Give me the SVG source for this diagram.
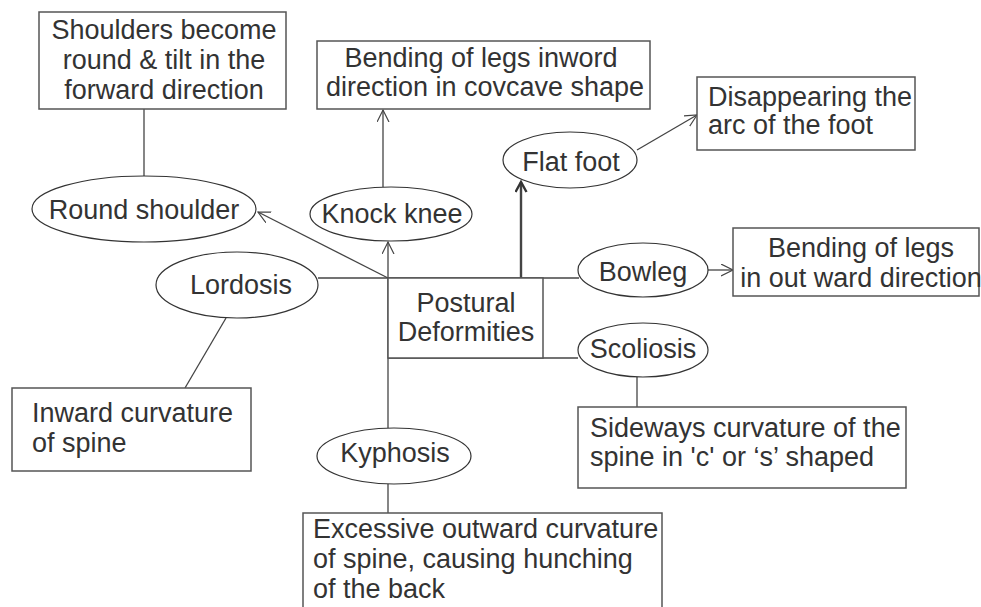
<svg xmlns="http://www.w3.org/2000/svg" width="981" height="607" viewBox="0 0 981 607">
<defs>
<style>
.box{fill:#fff;stroke:#555;stroke-width:1.5}
.ell{fill:#fff;stroke:#333;stroke-width:1.2}
.t{font-family:"Liberation Sans",Arial,sans-serif;font-size:27px;fill:#333}
.c{text-anchor:middle}
.ln{fill:none;stroke:#444;stroke-width:1.3}
.bold{stroke-width:2.4}
</style>
<marker id="arr" markerWidth="14" markerHeight="14" refX="12" refY="6" orient="auto" markerUnits="userSpaceOnUse">
<path d="M0,0 L12,6 L0,12" fill="none" stroke="#444" stroke-width="1.2"/>
</marker>
<marker id="arrb" markerWidth="14" markerHeight="14" refX="11" refY="6" orient="auto" markerUnits="userSpaceOnUse">
<path d="M1,0.5 L11,6 L1,11.5" fill="none" stroke="#333" stroke-width="2.4"/>
</marker>
</defs>
<rect width="981" height="607" fill="#fff"/>
<g id="connectors">
<line class="ln" x1="144" y1="109" x2="144" y2="176"/>
<line class="ln" x1="388" y1="278" x2="258" y2="212" marker-end="url(#arr)"/>
<line class="ln" x1="388" y1="278" x2="388" y2="242" marker-end="url(#arr)"/>
<line class="ln" x1="383" y1="187" x2="383" y2="110" marker-end="url(#arr)"/>
<line class="ln bold" x1="521" y1="278" x2="521" y2="182" marker-end="url(#arrb)"/>
<line class="ln" x1="637" y1="150" x2="697" y2="115" marker-end="url(#arr)"/>
<line class="ln" x1="708" y1="270" x2="733" y2="270" marker-end="url(#arr)"/>
<line class="ln" x1="318" y1="278" x2="579" y2="278"/>
<line class="ln" x1="226" y1="318" x2="185" y2="388"/>
<line class="ln" x1="388" y1="278" x2="388" y2="428"/>
<line class="ln" x1="388" y1="484" x2="388" y2="513"/>
<line class="ln" x1="388" y1="358" x2="578" y2="358"/>
<line class="ln" x1="637" y1="377" x2="637" y2="407"/>
</g>
<g id="shoulders-desc">
<rect class="box" x="39" y="12" width="247" height="97"/>
<text class="t c" x="164" y="39">Shoulders become</text>
<text class="t c" x="164" y="69">round &amp; tilt in the</text>
<text class="t c" x="164" y="99">forward direction</text>
</g>
<g id="round-shoulder">
<ellipse class="ell" cx="144" cy="209" rx="112" ry="33"/>
<text class="t c" x="144" y="219">Round shoulder</text>
</g>
<g id="knock-desc">
<rect class="box" x="317" y="41" width="333" height="68"/>
<text class="t c" x="481" y="67">Bending of legs inword</text>
<text class="t c" x="485" y="96">direction in covcave shape</text>
</g>
<g id="knock-knee">
<ellipse class="ell" cx="391" cy="214" rx="81" ry="27"/>
<text class="t c" x="392" y="223">Knock knee</text>
</g>
<g id="flat-foot">
<ellipse class="ell" cx="570" cy="160" rx="67" ry="28"/>
<text class="t c" x="571" y="171">Flat foot</text>
</g>
<g id="flat-desc">
<rect class="box" x="697" y="77" width="218" height="73"/>
<text class="t" x="708" y="106">Disappearing the</text>
<text class="t" x="708" y="134">arc of the foot</text>
</g>
<g id="lordosis">
<ellipse class="ell" cx="237" cy="285" rx="81" ry="33"/>
<text class="t c" x="241" y="294">Lordosis</text>
</g>
<g id="lordosis-desc">
<rect class="box" x="12" y="388" width="239" height="83"/>
<text class="t" x="32" y="422">Inward curvature</text>
<text class="t" x="32" y="452">of spine</text>
</g>
<g id="postural">
<rect class="box" x="388" y="278" width="155" height="80"/>
<text class="t c" x="466" y="312">Postural</text>
<text class="t c" x="466" y="341">Deformities</text>
</g>
<g id="bowleg">
<ellipse class="ell" cx="643" cy="270" rx="65" ry="27"/>
<text class="t c" x="643" y="281">Bowleg</text>
</g>
<g id="bowleg-desc">
<rect class="box" x="733" y="228" width="246" height="68"/>
<text class="t c" x="861" y="257">Bending of legs</text>
<text class="t c" x="861" y="287">in out ward direction</text>
</g>
<g id="scoliosis">
<ellipse class="ell" cx="643" cy="350" rx="65" ry="27"/>
<text class="t c" x="643" y="358">Scoliosis</text>
</g>
<g id="scoliosis-desc">
<rect class="box" x="578" y="407" width="328" height="81"/>
<text class="t" x="590" y="437">Sideways curvature of the</text>
<text class="t" x="590" y="466">spine in 'c' or ‘s’ shaped</text>
</g>
<g id="kyphosis">
<ellipse class="ell" cx="394" cy="456" rx="77" ry="28"/>
<text class="t c" x="395" y="462">Kyphosis</text>
</g>
<g id="kyphosis-desc">
<rect class="box" x="303" y="513" width="359" height="110"/>
<text class="t" x="313" y="538">Excessive outward curvature</text>
<text class="t" x="313" y="568">of spine, causing hunching</text>
<text class="t" x="313" y="598">of the back</text>
</g>
</svg>
